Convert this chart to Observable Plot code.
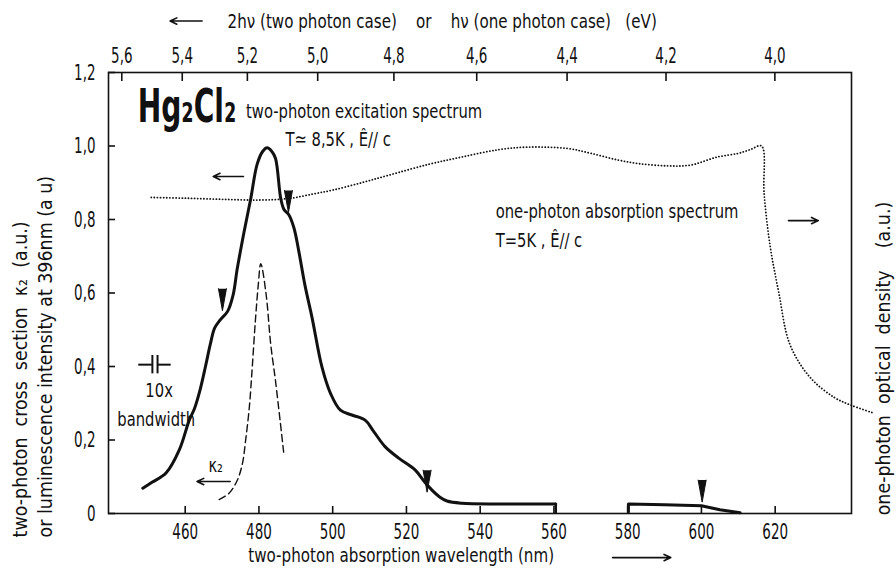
<!DOCTYPE html>
<html>
<head>
<meta charset="utf-8">
<script src="https://cdn.jsdelivr.net/npm/d3@7"></script>
<script src="https://cdn.jsdelivr.net/npm/@observablehq/plot@0.6"></script>
<style>
  html, body { margin: 0; padding: 0; background: #fff; }
  #chart svg { display: block; }
</style>
</head>
<body>
<div id="chart"></div>
<script>
// 2·h·c in eV·nm: photon pair energy 2hν for a given wavelength
const HC2 = 2479.68;

// Two-photon excitation spectrum (solid), first measured range
const excA_nm  = [448.5, 451, 454.8, 458.4, 461.1, 462.5, 464, 465.5, 466.8, 468, 469.5, 471.5, 473, 474.1, 476, 477.8, 479.5, 481, 482.2, 483.5, 484.5, 485.9, 486.8, 488.1, 489.5, 490.8, 492.5, 494.4, 497.1, 499.4, 502.1, 505.2, 508.8, 511, 514.2, 518, 522.4, 525, 526.8, 529, 531, 535, 545, 555, 560.5];
const excA_val = [0.069, 0.085, 0.11, 0.173, 0.254, 0.285, 0.335, 0.40, 0.46, 0.505, 0.527, 0.55, 0.595, 0.665, 0.768, 0.858, 0.95, 0.985, 0.995, 0.985, 0.966, 0.858, 0.827, 0.813, 0.777, 0.714, 0.62, 0.533, 0.398, 0.327, 0.281, 0.268, 0.254, 0.225, 0.182, 0.15, 0.118, 0.085, 0.065, 0.045, 0.034, 0.028, 0.026, 0.026, 0.026];
// closing stroke of the first range down to the axis
const excA_end_nm  = [560.5, 560.5];
const excA_end_val = [0.026, 0.003];
// Two-photon excitation spectrum (solid), second measured range
const excB_nm  = [580.2, 580.2, 590, 600, 605, 610.5];
const excB_val = [0.004, 0.026, 0.024, 0.021, 0.01, 0.002];

// Two-photon cross section κ2 (dashed)
const kappa_nm  = [469.2, 471.9, 474.1, 475.5, 476.4, 477.4, 478.2, 479, 479.8, 480.5, 481.9, 483.2, 484.5, 486.7];
const kappa_val = [0.038, 0.055, 0.09, 0.135, 0.2, 0.29, 0.4, 0.52, 0.62, 0.68, 0.6, 0.46, 0.36, 0.167];

// One-photon absorption spectrum (dotted, right-hand scale)
const abs_nm  = [450.8, 460, 470, 480, 488, 495, 500, 507.8, 515, 526, 535, 545, 553, 563.8, 570, 577.3, 583, 590.8, 597, 604.3, 610, 613.2, 616.3, 617, 618.6, 621, 624, 629.5, 636, 640.5, 646.8];
const abs_val = [0.86, 0.858, 0.855, 0.853, 0.857, 0.87, 0.88, 0.90, 0.92, 0.95, 0.97, 0.99, 0.997, 0.993, 0.98, 0.962, 0.952, 0.946, 0.948, 0.97, 0.98, 0.99, 1.0, 0.87, 0.73, 0.6, 0.46, 0.37, 0.316, 0.295, 0.273];

// Structure markers (wedge tips on the excitation curve)
const mark_nm  = [470.1, 488, 525.6, 600.2];
const mark_val = [0.552, 0.819, 0.058, 0.031];

// Axis ticks
const xTicks  = [460, 480, 500, 520, 540, 560, 580, 600, 620];
const yTicks  = [0, 0.2, 0.4, 0.6, 0.8, 1.0, 1.2];
const eVTicks = [5.6, 5.4, 5.2, 5.0, 4.8, 4.6, 4.4, 4.2, 4.0];

const comma = v => v === 0 ? "0" : v.toFixed(1).replace(".", ",");

const zip = (xs, ys) => xs.map((x, i) => ({x, y: ys[i]}));
const excA    = zip(excA_nm, excA_val);
const excAEnd = zip(excA_end_nm, excA_end_val);
const excB    = zip(excB_nm, excB_val);
const kappa   = zip(kappa_nm, kappa_val);
const absn    = zip(abs_nm, abs_val);
const wedges  = zip(mark_nm, mark_val);

// Annotation texts, anchored in data units (nm, a.u.)
const notes = [
  {x: 476.5, y: 1.075, text: "two-photon excitation spectrum"},
  {x: 487.2, y: 1.001, text: "T≃ 8,5K , Ê// c"},
  {x: 544.2, y: 0.803, text: "one-photon absorption spectrum"},
  {x: 544.2, y: 0.724, text: "T=5K , Ê// c"},
  {x: 449.2, y: 0.316, text: "10x"},
  {x: 441.6, y: 0.237, text: "bandwidth"},
  {x: 466.3, y: 0.113, text: "κ₂"}
];
const titles = [
  {x: 471.5, y: 1.322, text: "2hν (two photon case)    or    hν (one photon case)   (eV)"},
  {x: 477.1, y: -0.131, text: "two-photon absorption wavelength (nm)"}
];
const sideLabels = [
  {x: 415.3, y: -0.065, text: "two-photon  cross  section  κ₂  (a.u.)"},
  {x: 422.1, y: -0.065, text: "or luminescence intensity at 396nm (a u)"},
  {x: 649.3, y: -0.005, text: "one-photon  optical  density    (a.u.)"}
];
const arrows = [
  {x1: 464.6, x2: 455.9, y1: 1.34, y2: 1.34},
  {x1: 475.8, x2: 467.6, y1: 0.917, y2: 0.917},
  {x1: 623.6, x2: 631.7, y1: 0.797, y2: 0.797},
  {x1: 472.2, x2: 463.2, y1: 0.087, y2: 0.087},
  {x1: 575.9, x2: 591.7, y1: -0.12, y2: -0.12}
];
// 10x bandwidth symbol: two plates and leads
const bwPlates = [{x: 451.1, y1: 0.38, y2: 0.43}, {x: 452.5, y1: 0.38, y2: 0.43}];
const bwLeads  = [{x1: 447.4, x2: 451.1, y: 0.405}, {x1: 452.5, x2: 456.2, y: 0.405}];

const FONT = "'Liberation Sans Narrow', 'DejaVu Sans Condensed', 'Roboto Condensed', 'Arial Narrow', 'DejaVu Sans', sans-serif";
const INK = "#111";

const chart = Plot.plot({
  width: 896,
  height: 576,
  marginLeft: 108,
  marginRight: 45,
  marginTop: 72,
  marginBottom: 63,
  style: {fontFamily: FONT, fontSize: "20px", color: INK, background: "#fff", overflow: "visible"},
  x: {domain: [439.2, 640.7]},
  y: {domain: [0, 1.2]},
  marks: [
    Plot.frame({stroke: INK, strokeWidth: 1.6}),
    Plot.axisX(xTicks, {anchor: "bottom", tickSize: -7, tickPadding: 17, tickFormat: d => String(d), label: null, fontSize: 22, strokeWidth: 1.6}),
    Plot.axisX(eVTicks.map(e => HC2 / e), {anchor: "top", tickSize: -8, tickPadding: 18, tickFormat: d => comma(Math.round(HC2 / d * 10) / 10), label: null, fontSize: 22, strokeWidth: 1.6}),
    Plot.axisY(yTicks, {anchor: "left", tickSize: -7, tickPadding: 20, tickFormat: comma, label: null, fontSize: 22, strokeWidth: 1.6}),

    Plot.line(absn, {x: "x", y: "y", stroke: INK, strokeWidth: 1.8, strokeDasharray: "0.1,3", strokeLinecap: "round", curve: "catmull-rom"}),
    Plot.line(kappa, {x: "x", y: "y", stroke: INK, strokeWidth: 1.4, strokeDasharray: "7,4", curve: "catmull-rom"}),
    Plot.line(excA, {x: "x", y: "y", stroke: INK, strokeWidth: 3, curve: "catmull-rom"}),
    Plot.line(excAEnd, {x: "x", y: "y", stroke: INK, strokeWidth: 2.5}),
    Plot.line(excB, {x: "x", y: "y", stroke: INK, strokeWidth: 3, curve: "linear"}),

    Plot.vector(wedges, {x: "x", y: "y", length: 22, rotate: 180, anchor: "end", shape: "spike", r: 4, fill: INK, stroke: INK, strokeWidth: 1}),

    Plot.ruleX(bwPlates, {x: "x", y1: "y1", y2: "y2", stroke: INK, strokeWidth: 2}),
    Plot.ruleY(bwLeads, {x1: "x1", x2: "x2", y: "y", stroke: INK, strokeWidth: 2}),

    Plot.arrow(arrows, {x1: "x1", y1: "y1", x2: "x2", y2: "y2", stroke: INK, strokeWidth: 1.6, headLength: 7, headAngle: 50}),

    Plot.text(notes, {x: "x", y: "y", text: "text", fontSize: 20, textAnchor: "start", lineAnchor: "bottom", fill: INK, ariaLabel: () => "note"}),
    Plot.text(titles, {x: "x", y: "y", text: "text", fontSize: 20, textAnchor: "start", lineAnchor: "bottom", fill: INK, ariaLabel: () => "axis title"}),
    Plot.text(sideLabels, {x: "x", y: "y", text: "text", fontSize: 20, rotate: -90, textAnchor: "start", lineAnchor: "middle", fill: INK, ariaLabel: () => "side label"}),
    Plot.text(["Hg₂Cl₂"], {x: 447.1, y: 1.064, text: d => d, fontSize: 46, fontWeight: "bold", textAnchor: "start", lineAnchor: "bottom", fill: INK, ariaLabel: () => "formula"})
  ]
});

document.getElementById("chart").appendChild(chart);

// Condensed lettering: narrow each text horizontally along its baseline
const narrow = {
  "x-axis tick label": 0.68,
  "y-axis tick label": 0.68,
  "note": 0.82,
  "axis title": 0.84,
  "side label": 0.97,
  "formula": 0.68
};
chart.querySelectorAll("text").forEach(t => {
  const key = t.getAttribute("aria-label") || (t.parentNode && t.parentNode.getAttribute && t.parentNode.getAttribute("aria-label"));
  const k = narrow[key];
  if (!k) return;
  const w = t.getComputedTextLength();
  if (!(w > 0)) return;
  t.setAttribute("textLength", (w * k).toFixed(1));
  t.setAttribute("lengthAdjust", "spacingAndGlyphs");
});
</script>
</body>
</html>
